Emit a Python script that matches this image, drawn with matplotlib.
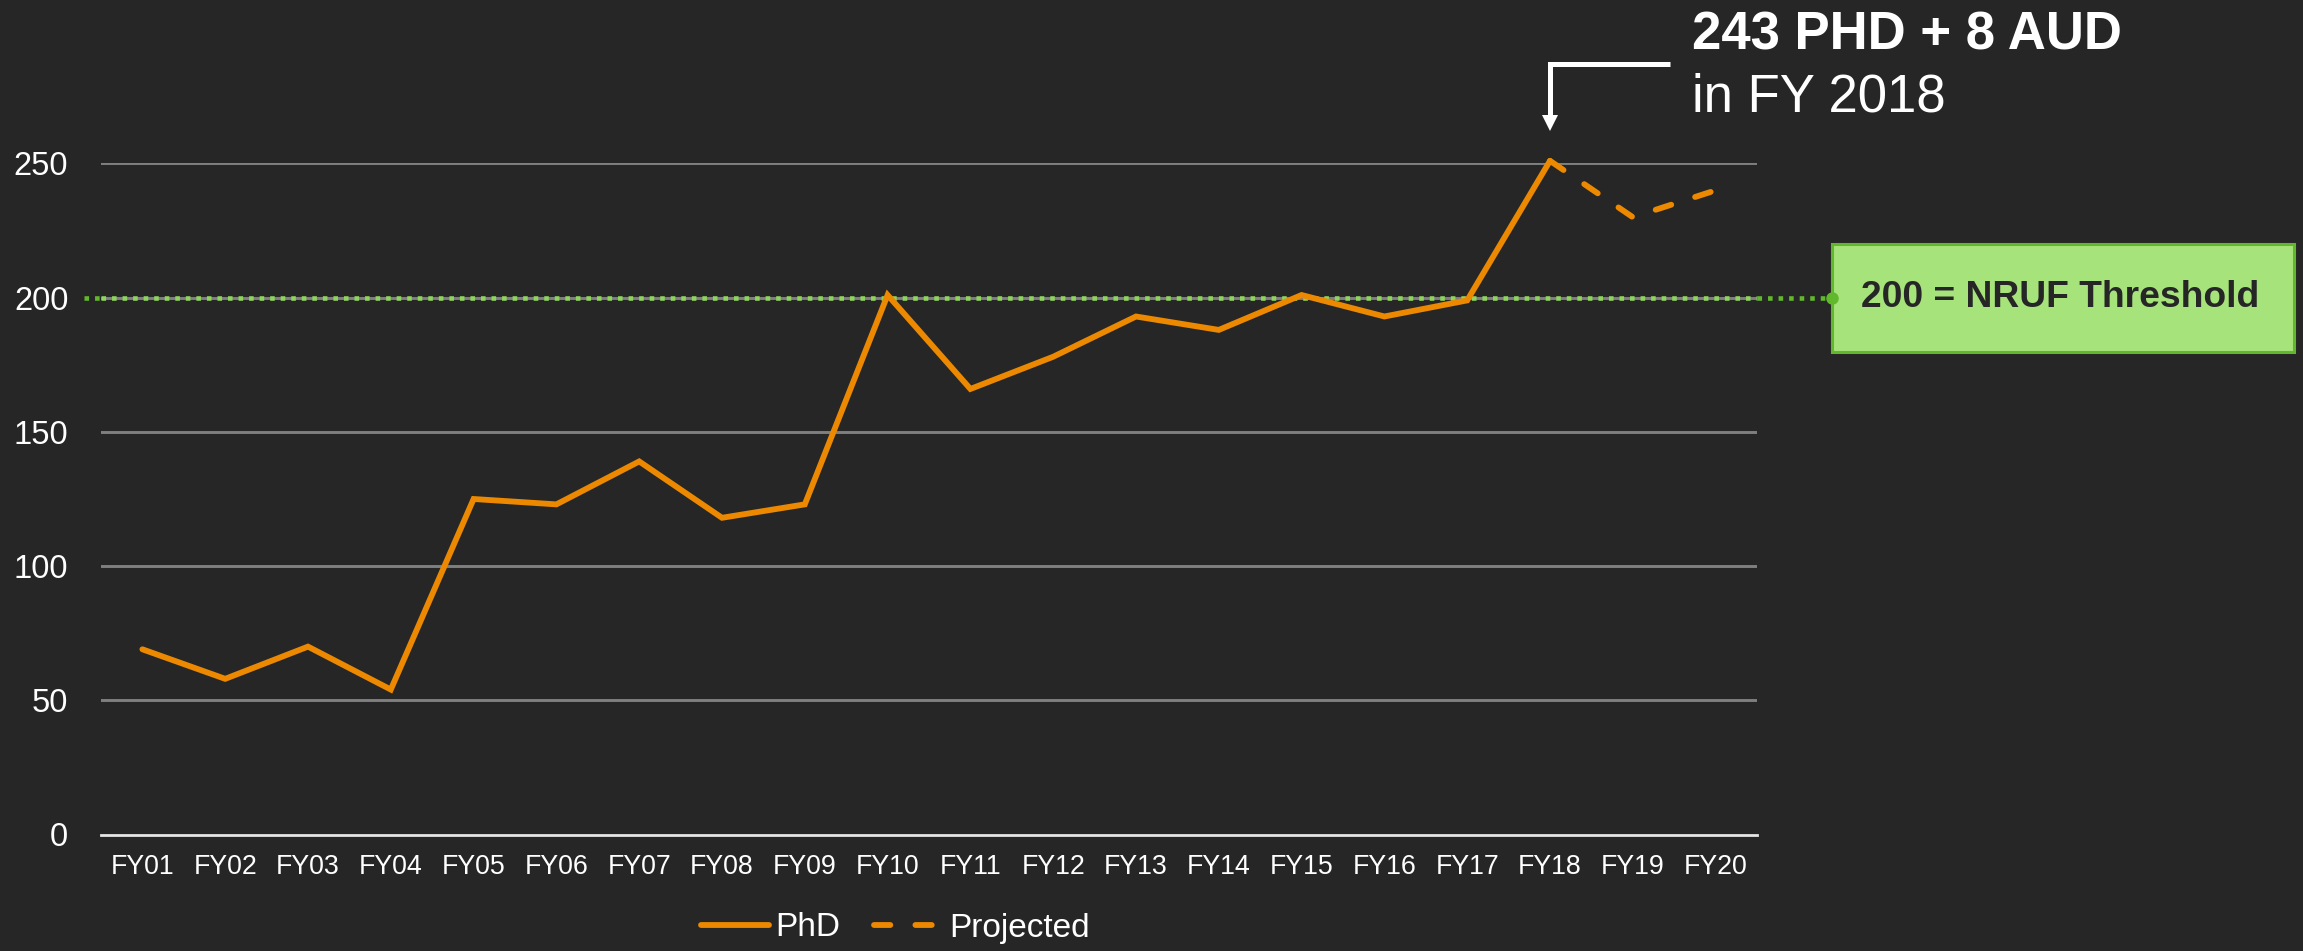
import numpy as np
import matplotlib
matplotlib.use("Agg")
import matplotlib.pyplot as plt
import matplotlib.transforms as mtransforms
from matplotlib.patches import Rectangle

# data
years = ["FY01", "FY02", "FY03", "FY04", "FY05", "FY06", "FY07", "FY08", "FY09", "FY10",
         "FY11", "FY12", "FY13", "FY14", "FY15", "FY16", "FY17", "FY18", "FY19", "FY20"]
phd = [69, 58, 70, 54, 125, 123, 139, 118, 123, 201,
       166, 178, 193, 188, 201, 193, 199, 251, np.nan, np.nan]
projected = [np.nan] * 17 + [251, 230, 240]
threshold = 200
y_ticks = [0, 50, 100, 150, 200, 250]

BG = "#262626"
ORANGE = "#EC8900"
GREEN = "#62B82C"
GREEN_LIGHT = "#8ED45E"
BOX_FILL = "#A6E37A"
GRID = "#7F7F7F"

plt.rcParams["font.family"] = ["Liberation Sans", "DejaVu Sans"]

fig = plt.figure(figsize=(23.03, 9.51), dpi=100, facecolor=BG)
ax = fig.add_axes([101 / 2303, 1 - 834.5 / 951, 1656 / 2303, 671 / 951], facecolor=BG)

x = np.arange(len(years))
ax.set_xlim(-0.5, len(years) - 0.5)
ax.set_ylim(0, 250)

# gridlines
for v in y_ticks[1:]:
    ax.axhline(v, color=GRID, lw=2.1, zorder=1)
ax.axhline(0, color="#E6E6E6", lw=2.0, zorder=1, clip_on=False)

# threshold dotted line, running out to the label box
blend = mtransforms.blended_transform_factory(ax.transAxes, ax.transData)
dots = dict(lw=3.3, linestyle=(0, (1, 1.3)), dash_capstyle="butt", clip_on=False, zorder=2)
ax.plot([-0.0103, 0.0], [threshold, threshold], transform=blend, color=GREEN, **dots)
ax.plot([0.0, 1.0], [threshold, threshold], transform=blend, color=GREEN_LIGHT, **dots)
ax.plot([1.0, 1.0453], [threshold, threshold], transform=blend, color=GREEN, **dots)
ax.plot([1.0453], [threshold], transform=blend, marker="o", ms=8, color=GREEN,
        clip_on=False, zorder=5)

# series
ax.plot(x, phd, color=ORANGE, lw=4.2, solid_capstyle="round", solid_joinstyle="miter",
        clip_on=False, zorder=4, label="PhD")
ax.plot(x, projected, color=ORANGE, lw=4.2, linestyle=(0, (2.8, 4.3)),
        dash_capstyle="round", clip_on=False, zorder=4, label="Projected")

# threshold box
bw, bh = 462 / 1656, 108 / 2.684
ax.add_patch(Rectangle((1.0453, threshold - bh / 2), bw, bh, transform=blend,
                       facecolor=BOX_FILL, edgecolor=GREEN, lw=2.2, clip_on=False, zorder=3))
ax.text(1.0453 + bw / 2 - 0.002, threshold, "200 = NRUF Threshold", transform=blend,
        ha="center", va="center", fontsize=26.8, fontweight="bold", color="#262626", zorder=6)

# FY18 callout
ax.plot([18.45, 17, 17], [287.0, 287.0, 268], color="white", lw=3.6,
        solid_joinstyle="miter", solid_capstyle="butt", clip_on=False, zorder=5)
ax.plot([17], [265.0], marker="v", ms=11, mew=0, color="white", clip_on=False, zorder=5)
fig.text(1692 / 2303, 1 - 50 / 951, "243 PHD + 8 AUD", ha="left", va="baseline",
         fontsize=38, fontweight="bold", color="white")
fig.text(1692 / 2303, 1 - 112 / 951, "in FY 2018", ha="left", va="baseline",
         fontsize=38, color="white")

# axes styling
ax.set_xticks(x)
ax.set_xticklabels(years, fontsize=19.3, color="white")
ax.set_yticks(y_ticks)
ax.set_yticklabels([str(v) for v in y_ticks], fontsize=23.5, color="white")
ax.tick_params(axis="both", length=0)
ax.tick_params(axis="y", pad=23.5)
ax.tick_params(axis="x", pad=14)
for s in ax.spines.values():
    s.set_visible(False)

leg = fig.legend(loc="center", bbox_to_anchor=(895 / 2303, 1 - 928 / 951), ncol=2,
                 frameon=False, fontsize=24, handlelength=2.05, handletextpad=0.2,
                 columnspacing=1.0, borderaxespad=0)
for t in leg.get_texts():
    t.set_color("white")

fig.savefig("out.png", dpi=100, facecolor=BG)
